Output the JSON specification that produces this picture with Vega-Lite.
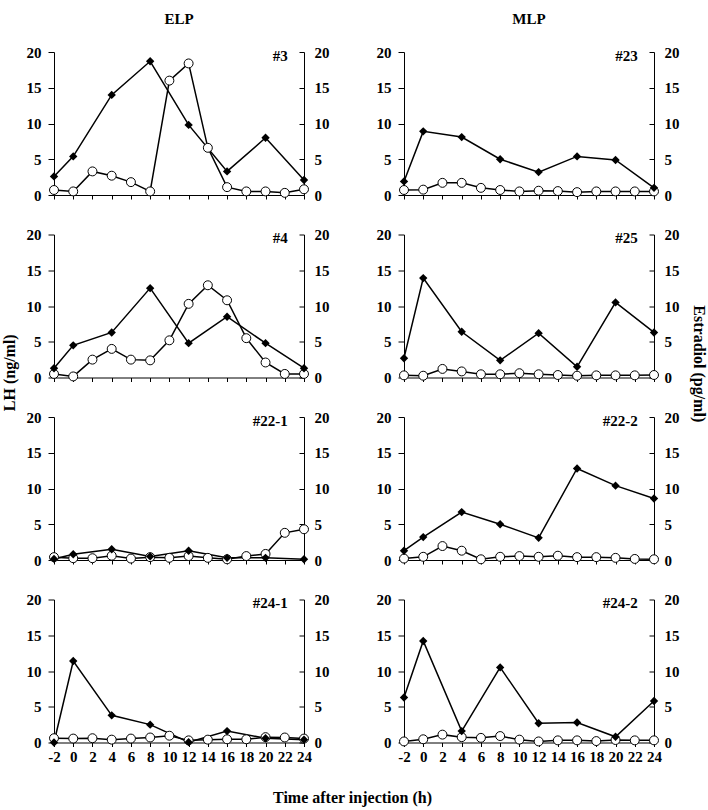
{
  "$schema": "https://vega.github.io/schema/vega-lite/v6.json",
  "padding": {"left": 2, "top": 12, "right": 2, "bottom": 3},
  "background": "white",
  "title": {"text": "Estradiol (pg/ml)", "orient": "right", "anchor": "middle", "offset": 12, "dx": -45, "fontSize": 16},
  "data": {"values": [
    {"id":"#3","t":-2,"lh":2.6,"e2":0.7},{"id":"#3","t":0,"lh":5.4,"e2":0.5},{"id":"#3","t":2,"lh":null,"e2":3.3},{"id":"#3","t":4,"lh":14.0,"e2":2.7},{"id":"#3","t":6,"lh":null,"e2":1.8},{"id":"#3","t":8,"lh":18.7,"e2":0.5},{"id":"#3","t":10,"lh":null,"e2":16.0},{"id":"#3","t":12,"lh":9.8,"e2":18.4},{"id":"#3","t":14,"lh":null,"e2":6.6},{"id":"#3","t":16,"lh":3.3,"e2":1.1},{"id":"#3","t":18,"lh":null,"e2":0.5},{"id":"#3","t":20,"lh":8.0,"e2":0.5},{"id":"#3","t":22,"lh":null,"e2":0.3},{"id":"#3","t":24,"lh":2.1,"e2":0.8},
    {"id":"#23","t":-2,"lh":1.9,"e2":0.7},{"id":"#23","t":0,"lh":8.9,"e2":0.75},{"id":"#23","t":2,"lh":null,"e2":1.7},{"id":"#23","t":4,"lh":8.1,"e2":1.7},{"id":"#23","t":6,"lh":null,"e2":1.0},{"id":"#23","t":8,"lh":5.0,"e2":0.7},{"id":"#23","t":10,"lh":null,"e2":0.5},{"id":"#23","t":12,"lh":3.2,"e2":0.6},{"id":"#23","t":14,"lh":null,"e2":0.55},{"id":"#23","t":16,"lh":5.4,"e2":0.4},{"id":"#23","t":18,"lh":null,"e2":0.5},{"id":"#23","t":20,"lh":4.9,"e2":0.5},{"id":"#23","t":22,"lh":null,"e2":0.5},{"id":"#23","t":24,"lh":1.0,"e2":0.5},
    {"id":"#4","t":-2,"lh":1.3,"e2":0.5},{"id":"#4","t":0,"lh":4.5,"e2":0.15},{"id":"#4","t":2,"lh":null,"e2":2.5},{"id":"#4","t":4,"lh":6.3,"e2":4.0},{"id":"#4","t":6,"lh":null,"e2":2.5},{"id":"#4","t":8,"lh":12.5,"e2":2.4},{"id":"#4","t":10,"lh":null,"e2":5.2},{"id":"#4","t":12,"lh":4.8,"e2":10.3},{"id":"#4","t":14,"lh":null,"e2":12.9},{"id":"#4","t":16,"lh":8.5,"e2":10.8},{"id":"#4","t":18,"lh":null,"e2":5.5},{"id":"#4","t":20,"lh":4.8,"e2":2.1},{"id":"#4","t":22,"lh":null,"e2":0.5},{"id":"#4","t":24,"lh":1.3,"e2":0.5},
    {"id":"#25","t":-2,"lh":2.7,"e2":0.3},{"id":"#25","t":0,"lh":13.9,"e2":0.25},{"id":"#25","t":2,"lh":null,"e2":1.2},{"id":"#25","t":4,"lh":6.4,"e2":0.85},{"id":"#25","t":6,"lh":null,"e2":0.45},{"id":"#25","t":8,"lh":2.4,"e2":0.45},{"id":"#25","t":10,"lh":null,"e2":0.6},{"id":"#25","t":12,"lh":6.2,"e2":0.45},{"id":"#25","t":14,"lh":null,"e2":0.35},{"id":"#25","t":16,"lh":1.5,"e2":0.25},{"id":"#25","t":18,"lh":null,"e2":0.3},{"id":"#25","t":20,"lh":10.5,"e2":0.3},{"id":"#25","t":22,"lh":null,"e2":0.3},{"id":"#25","t":24,"lh":6.3,"e2":0.35},
    {"id":"#22-1","t":-2,"lh":0.15,"e2":0.4},{"id":"#22-1","t":0,"lh":0.8,"e2":0.25},{"id":"#22-1","t":2,"lh":null,"e2":0.25},{"id":"#22-1","t":4,"lh":1.5,"e2":0.6},{"id":"#22-1","t":6,"lh":null,"e2":0.2},{"id":"#22-1","t":8,"lh":0.5,"e2":0.4},{"id":"#22-1","t":10,"lh":null,"e2":0.3},{"id":"#22-1","t":12,"lh":1.3,"e2":0.55},{"id":"#22-1","t":14,"lh":null,"e2":0.3},{"id":"#22-1","t":16,"lh":0.3,"e2":0.1},{"id":"#22-1","t":18,"lh":null,"e2":0.55},{"id":"#22-1","t":20,"lh":0.3,"e2":0.85},{"id":"#22-1","t":22,"lh":null,"e2":3.8},{"id":"#22-1","t":24,"lh":0.1,"e2":4.3},
    {"id":"#22-2","t":-2,"lh":1.3,"e2":0.2},{"id":"#22-2","t":0,"lh":3.2,"e2":0.45},{"id":"#22-2","t":2,"lh":null,"e2":1.95},{"id":"#22-2","t":4,"lh":6.7,"e2":1.3},{"id":"#22-2","t":6,"lh":null,"e2":0.1},{"id":"#22-2","t":8,"lh":5.0,"e2":0.45},{"id":"#22-2","t":10,"lh":null,"e2":0.55},{"id":"#22-2","t":12,"lh":3.1,"e2":0.45},{"id":"#22-2","t":14,"lh":null,"e2":0.6},{"id":"#22-2","t":16,"lh":12.8,"e2":0.4},{"id":"#22-2","t":18,"lh":null,"e2":0.4},{"id":"#22-2","t":20,"lh":10.4,"e2":0.3},{"id":"#22-2","t":22,"lh":null,"e2":0.15},{"id":"#22-2","t":24,"lh":8.6,"e2":0.1},
    {"id":"#24-1","t":-2,"lh":0.0,"e2":0.6},{"id":"#24-1","t":0,"lh":11.4,"e2":0.55},{"id":"#24-1","t":2,"lh":null,"e2":0.6},{"id":"#24-1","t":4,"lh":3.8,"e2":0.4},{"id":"#24-1","t":6,"lh":null,"e2":0.55},{"id":"#24-1","t":8,"lh":2.5,"e2":0.7},{"id":"#24-1","t":10,"lh":null,"e2":0.95},{"id":"#24-1","t":12,"lh":0.05,"e2":0.3},{"id":"#24-1","t":14,"lh":null,"e2":0.4},{"id":"#24-1","t":16,"lh":1.6,"e2":0.45},{"id":"#24-1","t":18,"lh":null,"e2":0.45},{"id":"#24-1","t":20,"lh":0.6,"e2":0.75},{"id":"#24-1","t":22,"lh":null,"e2":0.7},{"id":"#24-1","t":24,"lh":0.4,"e2":0.55},
    {"id":"#24-2","t":-2,"lh":6.3,"e2":0.15},{"id":"#24-2","t":0,"lh":14.2,"e2":0.45},{"id":"#24-2","t":2,"lh":null,"e2":1.1},{"id":"#24-2","t":4,"lh":1.6,"e2":0.75},{"id":"#24-2","t":6,"lh":null,"e2":0.65},{"id":"#24-2","t":8,"lh":10.5,"e2":0.9},{"id":"#24-2","t":10,"lh":null,"e2":0.4},{"id":"#24-2","t":12,"lh":2.7,"e2":0.15},{"id":"#24-2","t":14,"lh":null,"e2":0.3},{"id":"#24-2","t":16,"lh":2.8,"e2":0.3},{"id":"#24-2","t":18,"lh":null,"e2":0.2},{"id":"#24-2","t":20,"lh":0.8,"e2":0.35},{"id":"#24-2","t":22,"lh":null,"e2":0.3},{"id":"#24-2","t":24,"lh":5.8,"e2":0.3}
  ]},
  "vconcat": [{
    "title": {"text": "LH (ng/ml)", "orient": "left", "anchor": "middle", "offset": 8, "dx": 36, "fontSize": 16},
    "vconcat": [{
      "title": {"text": "Time after injection (h)", "orient": "bottom", "anchor": "middle", "offset": 25, "fontSize": 16},
      "columns": 2,
      "bounds": "flush",
      "spacing": {"row": 39.5, "column": 100},
      "concat": [
        {"width":250,"height":143,"title":{"text":"ELP","offset":18},"transform":[{"filter":"datum.id === '#3'"}],
         "encoding":{"x":{"field":"t","type":"quantitative","scale":{"domain":[-2,24],"nice":false,"zero":false},"axis":{"values":[-2,0,2,4,6,8,10,12,14,16,18,20,22,24],"labels":false,"title":null}}},
         "layer":[
          {"transform":[{"filter":"isValid(datum.lh)"}],"mark":{"type":"line","color":"black","strokeWidth":1.5},"encoding":{"y":{"field":"lh","type":"quantitative","scale":{"domain":[0,20]},"axis":null}}},
          {"mark":{"type":"line","color":"black","strokeWidth":1.5},"encoding":{"y":{"field":"e2","type":"quantitative","scale":{"domain":[0,20]},"axis":null}}},
          {"mark":{"type":"point","shape":"circle","filled":true,"fill":"white","stroke":"black","strokeWidth":1,"size":80,"opacity":1},"encoding":{"y":{"field":"e2","type":"quantitative","scale":{"domain":[0,20]},"axis":{"orient":"right","values":[0,5,10,15,20],"title":null}}}},
          {"transform":[{"filter":"isValid(datum.lh)"}],"mark":{"type":"point","shape":"diamond","filled":true,"color":"black","size":70,"opacity":1},"encoding":{"y":{"field":"lh","type":"quantitative","scale":{"domain":[0,20]},"axis":{"orient":"left","values":[0,5,10,15,20],"title":null}}}},
          {"transform":[{"filter":"datum.t === 24"}],"mark":{"type":"text","align":"right","baseline":"middle","fontSize":15,"fontWeight":"bold","font":"Liberation Serif"},"encoding":{"x":{"datum":22.3},"y":{"datum":19.5,"type":"quantitative","scale":{"domain":[0,20]},"axis":null},"text":{"field":"id"}}}
         ],
         "resolve":{"scale":{"y":"independent"}}},
        {"width":250,"height":143,"title":{"text":"MLP","offset":18},"transform":[{"filter":"datum.id === '#23'"}],
         "encoding":{"x":{"field":"t","type":"quantitative","scale":{"domain":[-2,24],"nice":false,"zero":false},"axis":{"values":[-2,0,2,4,6,8,10,12,14,16,18,20,22,24],"labels":false,"title":null}}},
         "layer":[
          {"transform":[{"filter":"isValid(datum.lh)"}],"mark":{"type":"line","color":"black","strokeWidth":1.5},"encoding":{"y":{"field":"lh","type":"quantitative","scale":{"domain":[0,20]},"axis":null}}},
          {"mark":{"type":"line","color":"black","strokeWidth":1.5},"encoding":{"y":{"field":"e2","type":"quantitative","scale":{"domain":[0,20]},"axis":null}}},
          {"mark":{"type":"point","shape":"circle","filled":true,"fill":"white","stroke":"black","strokeWidth":1,"size":80,"opacity":1},"encoding":{"y":{"field":"e2","type":"quantitative","scale":{"domain":[0,20]},"axis":{"orient":"right","values":[0,5,10,15,20],"title":null}}}},
          {"transform":[{"filter":"isValid(datum.lh)"}],"mark":{"type":"point","shape":"diamond","filled":true,"color":"black","size":70,"opacity":1},"encoding":{"y":{"field":"lh","type":"quantitative","scale":{"domain":[0,20]},"axis":{"orient":"left","values":[0,5,10,15,20],"title":null}}}},
          {"transform":[{"filter":"datum.t === 24"}],"mark":{"type":"text","align":"right","baseline":"middle","fontSize":15,"fontWeight":"bold","font":"Liberation Serif"},"encoding":{"x":{"datum":22.3},"y":{"datum":19.5,"type":"quantitative","scale":{"domain":[0,20]},"axis":null},"text":{"field":"id"}}}
         ],
         "resolve":{"scale":{"y":"independent"}}},
        {"width":250,"height":143,"transform":[{"filter":"datum.id === '#4'"}],
         "encoding":{"x":{"field":"t","type":"quantitative","scale":{"domain":[-2,24],"nice":false,"zero":false},"axis":{"values":[-2,0,2,4,6,8,10,12,14,16,18,20,22,24],"labels":false,"title":null}}},
         "layer":[
          {"transform":[{"filter":"isValid(datum.lh)"}],"mark":{"type":"line","color":"black","strokeWidth":1.5},"encoding":{"y":{"field":"lh","type":"quantitative","scale":{"domain":[0,20]},"axis":null}}},
          {"mark":{"type":"line","color":"black","strokeWidth":1.5},"encoding":{"y":{"field":"e2","type":"quantitative","scale":{"domain":[0,20]},"axis":null}}},
          {"mark":{"type":"point","shape":"circle","filled":true,"fill":"white","stroke":"black","strokeWidth":1,"size":80,"opacity":1},"encoding":{"y":{"field":"e2","type":"quantitative","scale":{"domain":[0,20]},"axis":{"orient":"right","values":[0,5,10,15,20],"title":null}}}},
          {"transform":[{"filter":"isValid(datum.lh)"}],"mark":{"type":"point","shape":"diamond","filled":true,"color":"black","size":70,"opacity":1},"encoding":{"y":{"field":"lh","type":"quantitative","scale":{"domain":[0,20]},"axis":{"orient":"left","values":[0,5,10,15,20],"title":null}}}},
          {"transform":[{"filter":"datum.t === 24"}],"mark":{"type":"text","align":"right","baseline":"middle","fontSize":15,"fontWeight":"bold","font":"Liberation Serif"},"encoding":{"x":{"datum":22.3},"y":{"datum":19.5,"type":"quantitative","scale":{"domain":[0,20]},"axis":null},"text":{"field":"id"}}}
         ],
         "resolve":{"scale":{"y":"independent"}}},
        {"width":250,"height":143,"transform":[{"filter":"datum.id === '#25'"}],
         "encoding":{"x":{"field":"t","type":"quantitative","scale":{"domain":[-2,24],"nice":false,"zero":false},"axis":{"values":[-2,0,2,4,6,8,10,12,14,16,18,20,22,24],"labels":false,"title":null}}},
         "layer":[
          {"transform":[{"filter":"isValid(datum.lh)"}],"mark":{"type":"line","color":"black","strokeWidth":1.5},"encoding":{"y":{"field":"lh","type":"quantitative","scale":{"domain":[0,20]},"axis":null}}},
          {"mark":{"type":"line","color":"black","strokeWidth":1.5},"encoding":{"y":{"field":"e2","type":"quantitative","scale":{"domain":[0,20]},"axis":null}}},
          {"mark":{"type":"point","shape":"circle","filled":true,"fill":"white","stroke":"black","strokeWidth":1,"size":80,"opacity":1},"encoding":{"y":{"field":"e2","type":"quantitative","scale":{"domain":[0,20]},"axis":{"orient":"right","values":[0,5,10,15,20],"title":null}}}},
          {"transform":[{"filter":"isValid(datum.lh)"}],"mark":{"type":"point","shape":"diamond","filled":true,"color":"black","size":70,"opacity":1},"encoding":{"y":{"field":"lh","type":"quantitative","scale":{"domain":[0,20]},"axis":{"orient":"left","values":[0,5,10,15,20],"title":null}}}},
          {"transform":[{"filter":"datum.t === 24"}],"mark":{"type":"text","align":"right","baseline":"middle","fontSize":15,"fontWeight":"bold","font":"Liberation Serif"},"encoding":{"x":{"datum":22.3},"y":{"datum":19.5,"type":"quantitative","scale":{"domain":[0,20]},"axis":null},"text":{"field":"id"}}}
         ],
         "resolve":{"scale":{"y":"independent"}}},
        {"width":250,"height":143,"transform":[{"filter":"datum.id === '#22-1'"}],
         "encoding":{"x":{"field":"t","type":"quantitative","scale":{"domain":[-2,24],"nice":false,"zero":false},"axis":{"values":[-2,0,2,4,6,8,10,12,14,16,18,20,22,24],"labels":false,"title":null}}},
         "layer":[
          {"transform":[{"filter":"isValid(datum.lh)"}],"mark":{"type":"line","color":"black","strokeWidth":1.5},"encoding":{"y":{"field":"lh","type":"quantitative","scale":{"domain":[0,20]},"axis":null}}},
          {"mark":{"type":"line","color":"black","strokeWidth":1.5},"encoding":{"y":{"field":"e2","type":"quantitative","scale":{"domain":[0,20]},"axis":null}}},
          {"mark":{"type":"point","shape":"circle","filled":true,"fill":"white","stroke":"black","strokeWidth":1,"size":80,"opacity":1},"encoding":{"y":{"field":"e2","type":"quantitative","scale":{"domain":[0,20]},"axis":{"orient":"right","values":[0,5,10,15,20],"title":null}}}},
          {"transform":[{"filter":"isValid(datum.lh)"}],"mark":{"type":"point","shape":"diamond","filled":true,"color":"black","size":70,"opacity":1},"encoding":{"y":{"field":"lh","type":"quantitative","scale":{"domain":[0,20]},"axis":{"orient":"left","values":[0,5,10,15,20],"title":null}}}},
          {"transform":[{"filter":"datum.t === 24"}],"mark":{"type":"text","align":"right","baseline":"middle","fontSize":15,"fontWeight":"bold","font":"Liberation Serif"},"encoding":{"x":{"datum":22.3},"y":{"datum":19.5,"type":"quantitative","scale":{"domain":[0,20]},"axis":null},"text":{"field":"id"}}}
         ],
         "resolve":{"scale":{"y":"independent"}}},
        {"width":250,"height":143,"transform":[{"filter":"datum.id === '#22-2'"}],
         "encoding":{"x":{"field":"t","type":"quantitative","scale":{"domain":[-2,24],"nice":false,"zero":false},"axis":{"values":[-2,0,2,4,6,8,10,12,14,16,18,20,22,24],"labels":false,"title":null}}},
         "layer":[
          {"transform":[{"filter":"isValid(datum.lh)"}],"mark":{"type":"line","color":"black","strokeWidth":1.5},"encoding":{"y":{"field":"lh","type":"quantitative","scale":{"domain":[0,20]},"axis":null}}},
          {"mark":{"type":"line","color":"black","strokeWidth":1.5},"encoding":{"y":{"field":"e2","type":"quantitative","scale":{"domain":[0,20]},"axis":null}}},
          {"mark":{"type":"point","shape":"circle","filled":true,"fill":"white","stroke":"black","strokeWidth":1,"size":80,"opacity":1},"encoding":{"y":{"field":"e2","type":"quantitative","scale":{"domain":[0,20]},"axis":{"orient":"right","values":[0,5,10,15,20],"title":null}}}},
          {"transform":[{"filter":"isValid(datum.lh)"}],"mark":{"type":"point","shape":"diamond","filled":true,"color":"black","size":70,"opacity":1},"encoding":{"y":{"field":"lh","type":"quantitative","scale":{"domain":[0,20]},"axis":{"orient":"left","values":[0,5,10,15,20],"title":null}}}},
          {"transform":[{"filter":"datum.t === 24"}],"mark":{"type":"text","align":"right","baseline":"middle","fontSize":15,"fontWeight":"bold","font":"Liberation Serif"},"encoding":{"x":{"datum":22.3},"y":{"datum":19.5,"type":"quantitative","scale":{"domain":[0,20]},"axis":null},"text":{"field":"id"}}}
         ],
         "resolve":{"scale":{"y":"independent"}}},
        {"width":250,"height":143,"transform":[{"filter":"datum.id === '#24-1'"}],
         "encoding":{"x":{"field":"t","type":"quantitative","scale":{"domain":[-2,24],"nice":false,"zero":false},"axis":{"values":[-2,0,2,4,6,8,10,12,14,16,18,20,22,24],"labels":true,"labelFlush":false,"labelExpr":"'' + datum.value","title":null}}},
         "layer":[
          {"transform":[{"filter":"isValid(datum.lh)"}],"mark":{"type":"line","color":"black","strokeWidth":1.5},"encoding":{"y":{"field":"lh","type":"quantitative","scale":{"domain":[0,20]},"axis":null}}},
          {"mark":{"type":"line","color":"black","strokeWidth":1.5},"encoding":{"y":{"field":"e2","type":"quantitative","scale":{"domain":[0,20]},"axis":null}}},
          {"mark":{"type":"point","shape":"circle","filled":true,"fill":"white","stroke":"black","strokeWidth":1,"size":80,"opacity":1},"encoding":{"y":{"field":"e2","type":"quantitative","scale":{"domain":[0,20]},"axis":{"orient":"right","values":[0,5,10,15,20],"title":null}}}},
          {"transform":[{"filter":"isValid(datum.lh)"}],"mark":{"type":"point","shape":"diamond","filled":true,"color":"black","size":70,"opacity":1},"encoding":{"y":{"field":"lh","type":"quantitative","scale":{"domain":[0,20]},"axis":{"orient":"left","values":[0,5,10,15,20],"title":null}}}},
          {"transform":[{"filter":"datum.t === 24"}],"mark":{"type":"text","align":"right","baseline":"middle","fontSize":15,"fontWeight":"bold","font":"Liberation Serif"},"encoding":{"x":{"datum":22.3},"y":{"datum":19.5,"type":"quantitative","scale":{"domain":[0,20]},"axis":null},"text":{"field":"id"}}}
         ],
         "resolve":{"scale":{"y":"independent"}}},
        {"width":250,"height":143,"transform":[{"filter":"datum.id === '#24-2'"}],
         "encoding":{"x":{"field":"t","type":"quantitative","scale":{"domain":[-2,24],"nice":false,"zero":false},"axis":{"values":[-2,0,2,4,6,8,10,12,14,16,18,20,22,24],"labels":true,"labelFlush":false,"labelExpr":"'' + datum.value","title":null}}},
         "layer":[
          {"transform":[{"filter":"isValid(datum.lh)"}],"mark":{"type":"line","color":"black","strokeWidth":1.5},"encoding":{"y":{"field":"lh","type":"quantitative","scale":{"domain":[0,20]},"axis":null}}},
          {"mark":{"type":"line","color":"black","strokeWidth":1.5},"encoding":{"y":{"field":"e2","type":"quantitative","scale":{"domain":[0,20]},"axis":null}}},
          {"mark":{"type":"point","shape":"circle","filled":true,"fill":"white","stroke":"black","strokeWidth":1,"size":80,"opacity":1},"encoding":{"y":{"field":"e2","type":"quantitative","scale":{"domain":[0,20]},"axis":{"orient":"right","values":[0,5,10,15,20],"title":null}}}},
          {"transform":[{"filter":"isValid(datum.lh)"}],"mark":{"type":"point","shape":"diamond","filled":true,"color":"black","size":70,"opacity":1},"encoding":{"y":{"field":"lh","type":"quantitative","scale":{"domain":[0,20]},"axis":{"orient":"left","values":[0,5,10,15,20],"title":null}}}},
          {"transform":[{"filter":"datum.t === 24"}],"mark":{"type":"text","align":"right","baseline":"middle","fontSize":15,"fontWeight":"bold","font":"Liberation Serif"},"encoding":{"x":{"datum":22.3},"y":{"datum":19.5,"type":"quantitative","scale":{"domain":[0,20]},"axis":null},"text":{"field":"id"}}}
         ],
         "resolve":{"scale":{"y":"independent"}}}
      ]
    }]
  }],
  "config": {
    "view": {"stroke": null},
    "font": "Liberation Serif",
    "axis": {"grid": false, "labelOverlap": false, "labelFont": "Liberation Serif", "labelFontWeight": "bold", "labelFontSize": 15, "labelColor": "black", "domainColor": "black", "tickColor": "black", "domainWidth": 1, "tickWidth": 1},
    "axisLeft": {"tickSize": 6, "labelPadding": 7},
    "axisRight": {"tickSize": -5, "labelPadding": 15},
    "axisBottom": {"tickSize": 4, "labelPadding": 3},
    "title": {"font": "Liberation Serif", "fontWeight": "bold", "fontSize": 15, "color": "black", "anchor": "middle"}
  }
}
